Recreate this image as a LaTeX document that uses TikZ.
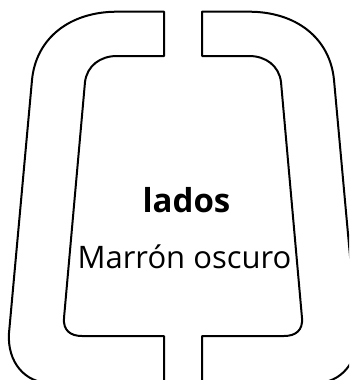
\documentclass[tikz,border=0pt]{standalone}
\usepackage{fontspec}
\setmainfont{Open Sans}
\begin{document}
\begin{tikzpicture}[x=1pt, y=-1pt, line join=round,
  frame/.style={draw=black, line width=2pt},
  label/.style={anchor=base, inner sep=0pt, font=\fontsize{31}{35}\selectfont}]
  % Canvas
  \useasboundingbox (0,0) rectangle (349,380);
  \clip (0,0) rectangle (349,380);
  % Left half of the frame
  \draw[frame] (164,11.7) -- (117,11.7) .. controls (70,11.7) and (36,38) .. (32,80)
    -- (9,333) .. controls (7,362) and (25,383) .. (50,383) -- (164,383) -- (164,336)
    -- (82,336) .. controls (70,336) and (63,330) .. (64,318)
    -- (85,82) .. controls (87,66) and (100,56) .. (117,56) -- (164,56) -- cycle;
  % Right half of the frame
  \draw[frame] (202,11.7) -- (249,11.7) .. controls (296,11.7) and (330,38) .. (334,80)
    -- (357,333) .. controls (359,362) and (341,383) .. (316,383) -- (202,383) -- (202,336)
    -- (284,336) .. controls (296,336) and (303,330) .. (302,318)
    -- (281,82) .. controls (279,66) and (266,56) .. (249,56) -- (202,56) -- cycle;
  % Labels
  \node[label, font=\fontsize{33}{37}\selectfont] (lados) at (186.5,212) {\textbf{lados}};
  \node[label] (color) at (184.5,268) {Marrón oscuro};
\end{tikzpicture}
\end{document}
